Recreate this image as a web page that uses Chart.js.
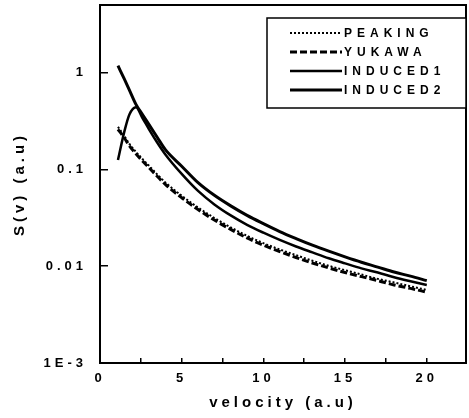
<!DOCTYPE html>
<html>
<head>
<meta charset="utf-8">
<script src="https://cdn.jsdelivr.net/npm/chart.js@4.4.1/dist/chart.umd.min.js"></script>
<style>
    html, body { margin: 0; padding: 0; background: #fff; }
    #sv-graph { display: block; }
</style>
</head>
<body>
<canvas id="sv-graph" width="469" height="418"></canvas>
<script>
// values (log y axis)
const velocity = [1.1, 1.5, 1.8, 2.2, 2.6, 3, 3.5, 4, 5, 6, 7, 8, 9, 10, 11, 12, 13, 14, 15, 16, 17, 18, 19, 20];
const peaking  = [0.275, 0.22, 0.184, 0.152, 0.128, 0.109, 0.089, 0.0735, 0.0535, 0.0404, 0.0315, 0.0252, 0.0206, 0.0173, 0.0149, 0.013, 0.0114, 0.0101, 0.0091, 0.0082, 0.0074, 0.0068, 0.0062, 0.0057];
const yukawa   = [0.26, 0.21, 0.175, 0.145, 0.122, 0.104, 0.085, 0.070, 0.051, 0.0385, 0.030, 0.024, 0.0196, 0.0165, 0.0142, 0.0123, 0.0108, 0.0096, 0.0086, 0.0078, 0.0071, 0.0064, 0.0059, 0.0054];
const induced1 = [0.125, 0.25, 0.37, 0.44, 0.34, 0.26, 0.19, 0.143, 0.090, 0.060, 0.0435, 0.0335, 0.0268, 0.0222, 0.0187, 0.016, 0.0139, 0.0121, 0.0107, 0.0095, 0.0086, 0.0077, 0.0070, 0.0064];
const induced2 = [1.18, 0.85, 0.66, 0.47, 0.37, 0.29, 0.215, 0.16, 0.108, 0.073, 0.054, 0.042, 0.0335, 0.0275, 0.0228, 0.0193, 0.0165, 0.0143, 0.0125, 0.011, 0.0098, 0.0087, 0.0079, 0.0071];

const xTicks = [0, 2.5, 5, 7.5, 10, 12.5, 15, 17.5, 20];
const yTicks = [0.001, 0.01, 0.1, 1];
const yTickLabels = ["1E-3", "0.01", "0.1", "1"];

const FONT = "'Liberation Sans', Arial, sans-serif";

function toPoints(ys) {
    return velocity.map((v, i) => ({ x: v, y: ys[i] }));
}

// canvas letter spacing, the scan has very wide type
const spacing = {
    id: "spacing",
    beforeUpdate(chart) { chart.ctx.letterSpacing = "4px"; },
    beforeDraw(chart) { chart.ctx.letterSpacing = "4px"; }
};

const frameAndLegend = {
    id: "frameAndLegend",
    afterDatasetsDraw(chart) {
        const ctx = chart.ctx;
        const a = chart.chartArea;
        ctx.save();
        ctx.strokeStyle = "#000";
        ctx.lineWidth = 2;
        ctx.setLineDash([]);
        ctx.strokeRect(a.left, a.top, a.right - a.left, a.bottom - a.top);

        // legend box in the upper right corner
        const bx = a.right - 199, by = a.top + 13, bw = 199, bh = 90;
        ctx.fillStyle = "#fff";
        ctx.fillRect(bx, by, bw, bh);
        ctx.lineWidth = 1.5;
        ctx.strokeRect(bx, by, bw, bh);

        ctx.font = "bold 12px " + FONT;
        ctx.letterSpacing = "5px";
        ctx.textBaseline = "middle";
        ctx.fillStyle = "#000";
        chart.data.datasets.forEach((ds, i) => {
            const y = by + 15 + i * 19;
            ctx.beginPath();
            ctx.setLineDash(ds.borderDash || []);
            ctx.lineWidth = ds.borderWidth;
            ctx.moveTo(bx + 23, y);
            ctx.lineTo(bx + 75, y);
            ctx.stroke();
            ctx.fillText(ds.label, bx + 77, y + 1);
        });
        ctx.restore();
    }
};

function lineSet(label, ys, width, dash) {
    return {
        label: label,
        data: toPoints(ys),
        borderColor: "#000",
        borderWidth: width,
        borderDash: dash,
        pointRadius: 0,
        fill: false,
        cubicInterpolationMode: "monotone"
    };
}

new Chart("sv-graph", {
    type: "line",
    data: {
        datasets: [
            lineSet("PEAKING", peaking, 2, [2, 2]),
            lineSet("YUKAWA", yukawa, 3, [7, 3]),
            lineSet("INDUCED1", induced1, 2.5, []),
            lineSet("INDUCED2", induced2, 3, [])
        ]
    },
    options: {
        responsive: false,
        animation: false,
        layout: { padding: { top: 5, right: 3, left: 0, bottom: 0 } },
        plugins: {
            legend: { display: false },
            tooltip: { enabled: false }
        },
        scales: {
            x: {
                type: "linear",
                min: 0,
                max: 22.4,
                afterBuildTicks: s => { s.ticks = xTicks.map(v => ({ value: v })); },
                afterFit: s => { s.height = 55; s.paddingLeft = 0; s.paddingRight = 0; },
                border: { display: false },
                grid: { drawOnChartArea: false, tickLength: -5, color: "#000", lineWidth: 1.5 },
                ticks: {
                    autoSkip: false,
                    maxRotation: 0,
                    padding: 13,
                    color: "#000",
                    font: { family: FONT, size: 13, weight: "bold" },
                    callback: v => (v % 5 === 0 ? String(v) : "")
                },
                title: {
                    display: true,
                    text: "velocity (a.u)",
                    color: "#000",
                    font: { family: FONT, size: 15, weight: "bold" },
                    padding: { top: 0, bottom: 6 }
                }
            },
            y: {
                type: "logarithmic",
                min: 0.001,
                max: 5,
                afterBuildTicks: s => { s.ticks = yTicks.map(v => ({ value: v })); },
                afterFit: s => { s.width = 100; s.paddingTop = 0; s.paddingBottom = 0; },
                border: { display: false },
                grid: { drawOnChartArea: false, tickLength: -8, color: "#000", lineWidth: 1.5 },
                ticks: {
                    padding: 21,
                    color: "#000",
                    font: { family: FONT, size: 13, weight: "bold" },
                    callback: (v, i) => yTickLabels[i]
                },
                title: {
                    display: true,
                    text: "S(v) (a.u)",
                    color: "#000",
                    font: { family: FONT, size: 15, weight: "bold" },
                    padding: { top: 11, bottom: 0 }
                }
            }
        }
    },
    plugins: [spacing, frameAndLegend]
});
</script>
</body>
</html>
